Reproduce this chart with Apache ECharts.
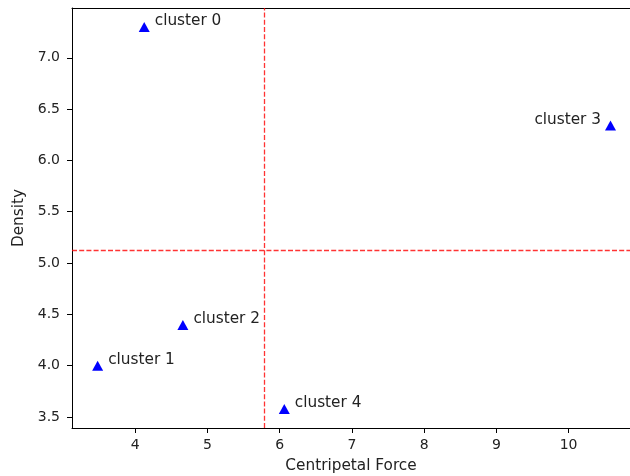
<!DOCTYPE html>
<html>
<head>
<meta charset="utf-8">
<script src="https://cdn.jsdelivr.net/npm/echarts@6/dist/echarts.min.js"></script>
<style>
  html, body { margin: 0; padding: 0; background: #fff; }
  #chart { width: 630px; height: 476px; }
</style>
</head>
<body>
<div id="chart"></div>
<script>
const clusterNames = ['cluster 0', 'cluster 1', 'cluster 2', 'cluster 3', 'cluster 4']
const centripetalForce = [4.125, 3.48, 4.66, 10.58, 6.064]
const density = [7.30, 4.00, 4.396, 6.34, 3.578]
const meanForce = 5.78
const meanDensity = 5.12

const font = 'DejaVu Sans'
const textColor = '#222'

const chart = echarts.init(document.getElementById('chart'))

const points = clusterNames.map((name, i) => {
  const p = { name, value: [centripetalForce[i], density[i]] }
  if (name === 'cluster 3') {
    p.label = { position: 'left', distance: 4 }
  }
  return p
})

const option = {
  animation: false,
  grid: { left: 72, top: 8, right: 0, bottom: 48, outerBoundsMode: 'none' },
  xAxis: [
    {
      type: 'value',
      min: 3.125,
      max: 10.85,
      minInterval: 1,
      maxInterval: 1,
      name: 'Centripetal Force',
      nameLocation: 'middle',
      nameGap: 31,
      nameTextStyle: { fontFamily: font, fontSize: 15.3, color: textColor },
      splitLine: { show: false },
      axisLine: { lineStyle: { color: '#000', width: 1 } },
      axisTick: { length: 5, lineStyle: { color: '#000' } },
      axisLabel: {
        fontFamily: font, fontSize: 14, color: textColor, margin: 10,
        showMinLabel: false, showMaxLabel: false
      }
    },
    {
      type: 'value',
      position: 'top',
      min: 3.125,
      max: 10.85,
      axisLine: { show: true, onZero: false, lineStyle: { color: '#000', width: 1 } },
      axisTick: { show: false },
      axisLabel: { show: false },
      splitLine: { show: false }
    }
  ],
  yAxis: {
    type: 'value',
    min: 3.392,
    max: 7.486,
    minInterval: 0.5,
    maxInterval: 0.5,
    name: 'Density',
    nameLocation: 'middle',
    nameGap: 43,
    nameTextStyle: { fontFamily: font, fontSize: 15.3, color: textColor },
    splitLine: { show: false },
    axisLine: { show: true, lineStyle: { color: '#000', width: 1 } },
    axisTick: { show: true, length: 5, lineStyle: { color: '#000' } },
    axisLabel: {
      fontFamily: font, fontSize: 14, color: textColor, margin: 12,
      showMinLabel: false, showMaxLabel: false,
      formatter: v => v.toFixed(1)
    }
  },
  series: [
    {
      type: 'scatter',
      symbol: 'triangle',
      symbolSize: [11, 10],
      itemStyle: { color: '#0000ff', opacity: 1 },
      label: {
        show: true,
        position: 'right',
        distance: 5,
        offset: [0, -6],
        formatter: p => p.name,
        fontFamily: font,
        fontSize: 15.3,
        color: textColor
      },
      data: points,
      markLine: {
        silent: true,
        symbol: 'none',
        label: { show: false },
        lineStyle: { color: 'rgba(255,0,0,0.8)', width: 1.3, type: [5, 2.2] },
        data: [{ xAxis: meanForce }, { yAxis: meanDensity }]
      }
    }
  ]
}

chart.setOption(option)
</script>
</body>
</html>
